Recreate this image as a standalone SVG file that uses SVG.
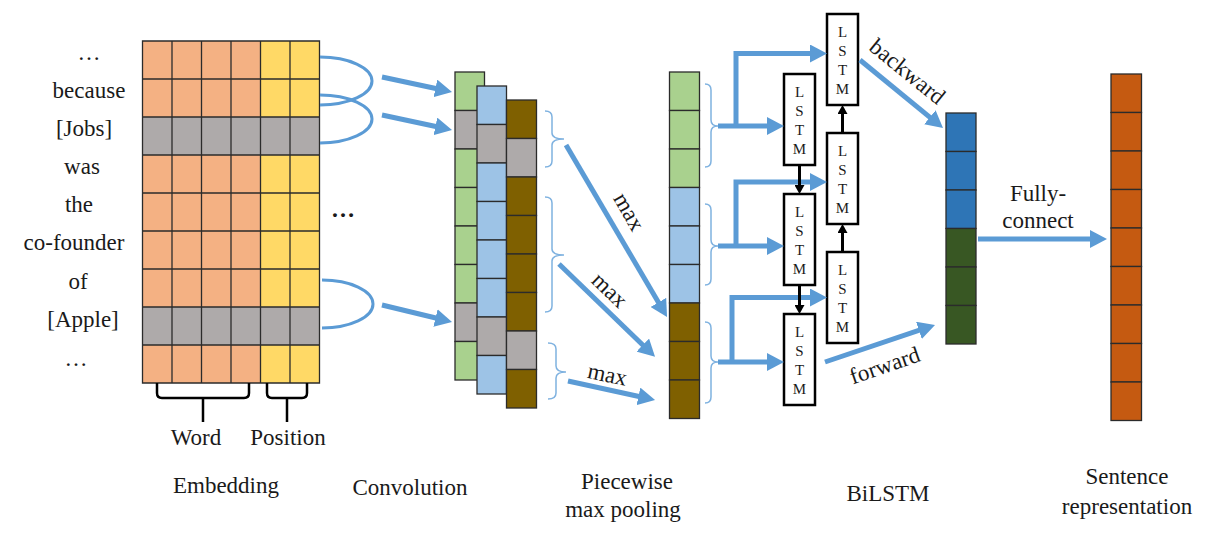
<svg xmlns="http://www.w3.org/2000/svg" width="1205" height="543" viewBox="0 0 1205 543">
<defs>
<marker id="ab" markerUnits="userSpaceOnUse" markerWidth="17" markerHeight="18" refX="10" refY="9" orient="auto"><path d="M0,0 L17,9 L0,18 Z" fill="#5B9BD5"/></marker>
<marker id="ak" markerUnits="userSpaceOnUse" markerWidth="10" markerHeight="10" refX="6" refY="5" orient="auto"><path d="M0,0 L9,5 L0,10 Z" fill="#000"/></marker>
<style>
.c{stroke:#2b2b2b;stroke-width:1.3}
.or{fill:#F4B183}.ye{fill:#FFD966}.gy{fill:#AEAAAA}.gr{fill:#A9D18E}.bl{fill:#9DC3E6}.bn{fill:#7F6000}.db{fill:#2E75B6}.dg{fill:#385723}.rd{fill:#C55A11}
.t{font-family:"Liberation Serif","Times New Roman",serif;font-size:23px;fill:#1a1a1a;text-anchor:middle}
.lt{font-family:"Liberation Serif","Times New Roman",serif;font-size:15px;fill:#1a1a1a;text-anchor:middle}
.arw{stroke:#5B9BD5;stroke-width:5;fill:none;marker-end:url(#ab)}
.arc{stroke:#5B9BD5;stroke-width:3;fill:none}
.br{stroke:#7FB2E0;stroke-width:1.5;fill:none}
.bk{stroke:#000;stroke-width:3;fill:none;marker-end:url(#ak)}
.bb{stroke:#000;stroke-width:2.5;fill:none}
.box{fill:#fff;stroke:#000;stroke-width:2.5}
</style>
</defs>
<rect width="1205" height="543" fill="#fff"/>

<g id="words" class="t">
<text x="89" y="60">…</text>
<text x="89" y="98">because</text>
<text x="84" y="136">[Jobs]</text>
<text x="82" y="174">was</text>
<text x="79" y="212">the</text>
<text x="74" y="250">co-founder</text>
<text x="78" y="289">of</text>
<text x="83" y="327">[Apple]</text>
<text x="76" y="366">…</text>
</g>

<g id="embedding">
<rect class="or" x="142.5" y="41" width="118" height="76"/>
<rect class="ye" x="260.5" y="41" width="59" height="76"/>
<rect class="gy" x="142.5" y="117" width="177" height="38"/>
<rect class="or" x="142.5" y="155" width="118" height="152"/>
<rect class="ye" x="260.5" y="155" width="59" height="152"/>
<rect class="gy" x="142.5" y="307" width="177" height="38"/>
<rect class="or" x="142.5" y="345" width="118" height="38"/>
<rect class="ye" x="260.5" y="345" width="59" height="38"/>
<path class="c" fill="none" d="M142.5 41H319.5V383H142.5Z M172 41V383 M201.5 41V383 M231 41V383 M260.5 41V383 M290 41V383 M142.5 79H319.5 M142.5 117H319.5 M142.5 155H319.5 M142.5 193H319.5 M142.5 231H319.5 M142.5 269H319.5 M142.5 307H319.5 M142.5 345H319.5"/>
</g>

<g id="emb-brackets">
<path class="bb" d="M157 383V393Q157 398 162 398H244Q249 398 249 393V383 M203 398V422"/>
<path class="bb" d="M267 383V393Q267 398 272 398H302Q307 398 307 393V383 M287 398V422"/>
</g>

<g id="conv">
<g class="c">
<rect class="gr" x="455" y="72" width="29.5" height="38.5"/>
<rect class="gy" x="455" y="110.5" width="29.5" height="38.5"/>
<rect class="gr" x="455" y="149" width="29.5" height="38.5"/>
<rect class="gr" x="455" y="187.5" width="29.5" height="38.5"/>
<rect class="gr" x="455" y="226" width="29.5" height="38.5"/>
<rect class="gr" x="455" y="264.5" width="29.5" height="38.5"/>
<rect class="gy" x="455" y="303" width="29.5" height="38.5"/>
<rect class="gr" x="455" y="341.5" width="29.5" height="38.5"/>
</g>
<g class="c">
<rect class="bl" x="477" y="86" width="29.5" height="38.5"/>
<rect class="gy" x="477" y="124.5" width="29.5" height="38.5"/>
<rect class="bl" x="477" y="163" width="29.5" height="38.5"/>
<rect class="bl" x="477" y="201.5" width="29.5" height="38.5"/>
<rect class="bl" x="477" y="240" width="29.5" height="38.5"/>
<rect class="bl" x="477" y="278.5" width="29.5" height="38.5"/>
<rect class="gy" x="477" y="317" width="29.5" height="38.5"/>
<rect class="bl" x="477" y="355.5" width="29.5" height="38.5"/>
</g>
<g class="c">
<rect class="bn" x="506.5" y="100" width="30" height="38.5"/>
<rect class="gy" x="506.5" y="138.5" width="30" height="38.5"/>
<rect class="bn" x="506.5" y="177" width="30" height="38.5"/>
<rect class="bn" x="506.5" y="215.5" width="30" height="38.5"/>
<rect class="bn" x="506.5" y="254" width="30" height="38.5"/>
<rect class="bn" x="506.5" y="292.5" width="30" height="38.5"/>
<rect class="gy" x="506.5" y="331" width="30" height="38.5"/>
<rect class="bn" x="506.5" y="369.5" width="30" height="38.5"/>
</g>
</g>

<g id="pooling" class="c">
<rect class="gr" x="669.5" y="72" width="30" height="38.5"/>
<rect class="gr" x="669.5" y="110.5" width="30" height="38.5"/>
<rect class="gr" x="669.5" y="149" width="30" height="38.5"/>
<rect class="bl" x="669.5" y="187.5" width="30" height="38.5"/>
<rect class="bl" x="669.5" y="226" width="30" height="38.5"/>
<rect class="bl" x="669.5" y="264.5" width="30" height="38.5"/>
<rect class="bn" x="669.5" y="303" width="30" height="38.5"/>
<rect class="bn" x="669.5" y="341.5" width="30" height="38.5"/>
<rect class="bn" x="669.5" y="380" width="30" height="38.5"/>
</g>

<g id="lstm-b1"><rect class="box" x="827" y="14" width="31" height="91"/><g class="lt"><text x="842.5" y="37">L</text><text x="842.5" y="56">S</text><text x="842.5" y="75">T</text><text x="842.5" y="94">M</text></g></g>
<g id="lstm-b2"><rect class="box" x="827" y="133" width="31" height="91"/><g class="lt"><text x="842.5" y="156">L</text><text x="842.5" y="175">S</text><text x="842.5" y="194">T</text><text x="842.5" y="213">M</text></g></g>
<g id="lstm-b3"><rect class="box" x="827" y="252" width="31" height="91"/><g class="lt"><text x="842.5" y="275">L</text><text x="842.5" y="294">S</text><text x="842.5" y="313">T</text><text x="842.5" y="332">M</text></g></g>
<g id="lstm-f1"><rect class="box" x="784" y="74" width="31" height="91"/><g class="lt"><text x="799.5" y="97">L</text><text x="799.5" y="116">S</text><text x="799.5" y="135">T</text><text x="799.5" y="154">M</text></g></g>
<g id="lstm-f2"><rect class="box" x="784" y="194" width="31" height="91"/><g class="lt"><text x="799.5" y="217">L</text><text x="799.5" y="236">S</text><text x="799.5" y="255">T</text><text x="799.5" y="274">M</text></g></g>
<g id="lstm-f3"><rect class="box" x="784" y="314" width="31" height="91"/><g class="lt"><text x="799.5" y="337">L</text><text x="799.5" y="356">S</text><text x="799.5" y="375">T</text><text x="799.5" y="394">M</text></g></g>

<g id="bilstm-out" class="c">
<rect class="db" x="946" y="113" width="30" height="38.5"/>
<rect class="db" x="946" y="151.5" width="30" height="38.5"/>
<rect class="db" x="946" y="190" width="30" height="38.5"/>
<rect class="dg" x="946" y="228.5" width="30" height="38.5"/>
<rect class="dg" x="946" y="267" width="30" height="38.5"/>
<rect class="dg" x="946" y="305.5" width="30" height="38.5"/>
</g>

<g id="sentence" class="c">
<rect class="rd" x="1111" y="74" width="30.5" height="38.5"/>
<rect class="rd" x="1111" y="112.5" width="30.5" height="38.5"/>
<rect class="rd" x="1111" y="151" width="30.5" height="38.5"/>
<rect class="rd" x="1111" y="189.5" width="30.5" height="38.5"/>
<rect class="rd" x="1111" y="228" width="30.5" height="38.5"/>
<rect class="rd" x="1111" y="266.5" width="30.5" height="38.5"/>
<rect class="rd" x="1111" y="305" width="30.5" height="38.5"/>
<rect class="rd" x="1111" y="343.5" width="30.5" height="38.5"/>
<rect class="rd" x="1111" y="382" width="30.5" height="38.5"/>
</g>

<g id="connectors">
<path class="arc" d="M320 57 A52 24 0 0 1 320 105"/>
<path class="arc" d="M320 95 A52 24 0 0 1 320 143"/>
<path class="arc" d="M322 280 A51 24 0 0 1 322 328"/>
<line class="arw" x1="382" y1="77" x2="445.2" y2="90.5"/>
<line class="arw" x1="382" y1="115" x2="445.2" y2="128.5"/>
<line class="arw" x1="382" y1="305" x2="445.2" y2="320.3"/>
<path class="br" d="M545 111Q552 111 552 117V133Q552 139 564 139Q552 139 552 145V161Q552 167 545 167"/>
<path class="br" d="M545 197Q552 197 552 203V249Q552 255 564 255Q552 255 552 261V306Q552 312 545 312"/>
<path class="br" d="M548 343Q556 343 556 349V366Q556 372 566 372Q556 372 556 378V393Q556 399 548 399"/>
<line class="arw" x1="566" y1="145" x2="663.5" y2="311"/>
<line class="arw" x1="559" y1="264" x2="650" y2="352"/>
<line class="arw" x1="568" y1="381" x2="648.2" y2="398.5"/>
<path class="br" d="M705 84Q711 84 711 90V120Q711 126 718 126Q711 126 711 132V161Q711 167 705 167"/>
<path class="br" d="M705 204Q711 204 711 210V240Q711 246 718 246Q711 246 711 252V279Q711 285 705 285"/>
<path class="br" d="M705 322Q711 322 711 328V356Q711 362 718 362Q711 362 711 368V397Q711 403 705 403"/>
<line class="arw" x1="718" y1="126" x2="777" y2="126"/>
<line class="arw" x1="718" y1="246" x2="777" y2="246"/>
<line class="arw" x1="718" y1="362" x2="777" y2="362"/>
<path class="arw" d="M736 126V53.5H820"/>
<path class="arw" d="M736 246V182H820"/>
<path class="arw" d="M732 362V297.5H820"/>
<line class="bk" x1="799.5" y1="165" x2="799.5" y2="191"/>
<line class="bk" x1="799.5" y1="285" x2="799.5" y2="311"/>
<line class="bk" x1="842.5" y1="252" x2="842.5" y2="227"/>
<line class="bk" x1="842.5" y1="133" x2="842.5" y2="108"/>
<line class="arw" x1="860" y1="60" x2="937.6" y2="123.6"/>
<line class="arw" x1="825" y1="362" x2="928.4" y2="327.2"/>
<line class="arw" x1="978" y1="239" x2="1100" y2="239"/>
</g>

<g id="labels" class="t">
<text x="343" y="217" font-weight="bold" font-size="24">…</text>
<text transform="translate(627,213) rotate(60)" y="5">max</text>
<text transform="translate(608,292) rotate(44)" y="5">max</text>
<text transform="translate(607,377) rotate(12)" y="5">max</text>
<text transform="translate(907,72) rotate(39)" y="7">backward</text>
<text transform="translate(885,366) rotate(-19)" y="7">forward</text>
<text x="1038" y="201">Fully-</text>
<text x="1038" y="228">connect</text>
<text x="196" y="445">Word</text>
<text x="288" y="445">Position</text>
<text x="226" y="493">Embedding</text>
<text x="410" y="495">Convolution</text>
<text x="627" y="489">Piecewise</text>
<text x="623" y="517">max pooling</text>
<text x="888" y="501">BiLSTM</text>
<text x="1127" y="484">Sentence</text>
<text x="1127" y="514">representation</text>
</g>
</svg>
